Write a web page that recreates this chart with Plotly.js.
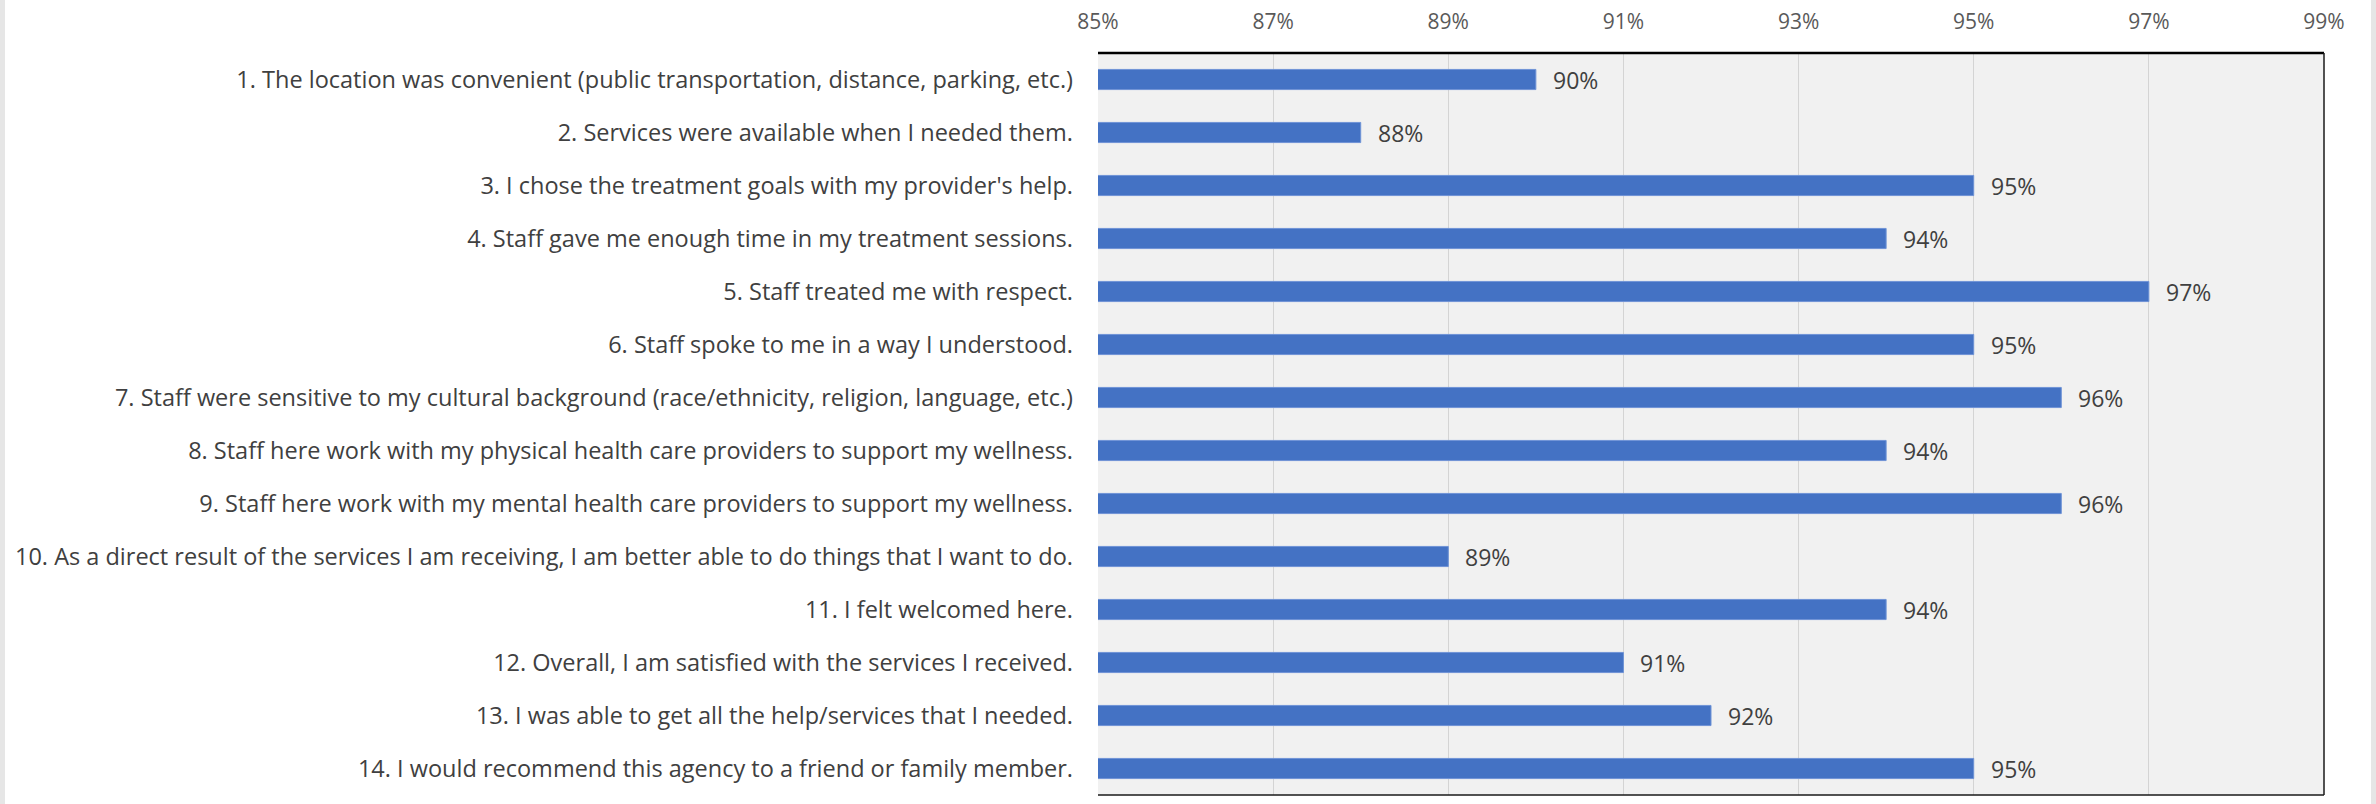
<!DOCTYPE html>
<html>
<head>
<meta charset="utf-8">
<script src="https://cdn.plot.ly/plotly-3.0.1.min.js"></script>
<style>
html,body{margin:0;padding:0;background:#ffffff;}
#wrap{position:relative;width:2376px;height:804px;overflow:hidden;}
#chart{width:2376px;height:804px;}
.strip{position:absolute;top:0;width:5px;height:804px;background:#e6e6e6;}
</style>
</head>
<body>
<div id="wrap">
<div id="chart"></div>
<div class="strip" style="left:0"></div>
<div class="strip" style="right:0"></div>
</div>
<script>
const categories = [
  "1. The location was convenient (public transportation, distance, parking, etc.)",
  "2. Services were available when I needed them.",
  "3. I chose the treatment goals with my provider's help.",
  "4. Staff gave me enough time in my treatment sessions.",
  "5. Staff treated me with respect.",
  "6. Staff spoke to me in a way I understood.",
  "7. Staff were sensitive to my cultural background (race/ethnicity, religion, language, etc.)",
  "8. Staff here work with my physical health care providers to support my wellness.",
  "9. Staff here work with my mental health care providers to support my wellness.",
  "10. As a direct result of the services I am receiving, I am better able to do things that I want to do.",
  "11. I felt welcomed here.",
  "12. Overall, I am satisfied with the services I received.",
  "13. I was able to get all the help/services that I needed.",
  "14. I would recommend this agency to a friend or family member."
];
const values = [90, 88, 95, 94, 97, 95, 96, 94, 96, 89, 94, 91, 92, 95];
const valueLabels = ["90%","88%","95%","94%","97%","95%","96%","94%","96%","89%","94%","91%","92%","95%"];
const tickValues = [85, 87, 89, 91, 93, 95, 97, 99];
const tickLabels = ["85%","87%","89%","91%","93%","95%","97%","99%"];

const FONT = "Open Sans, Liberation Sans, sans-serif";

const trace = {
  type: "bar",
  orientation: "h",
  x: values,
  y: categories,
  base: 0,
  marker: {color: "#4472c4", line: {color: "#6f93d6", width: 1}},
  hoverinfo: "skip"
};

const annotations = values.map((v, i) => ({
  x: v, y: categories[i], xref: "x", yref: "y",
  text: valueLabels[i], showarrow: false,
  xanchor: "left", yanchor: "middle", xshift: 15,
  font: {family: FONT, size: 23, color: "#404040"}
}));

const shapes = [
  {type: "line", xref: "paper", yref: "paper", x0: 0, x1: 1, y0: 1, y1: 1, line: {color: "#000000", width: 2.5}},
  {type: "line", xref: "paper", yref: "paper", x0: 1, x1: 1, y0: 0, y1: 1, line: {color: "#1a1a1a", width: 1.5}},
  {type: "line", xref: "paper", yref: "paper", x0: 0, x1: 1, y0: 0, y1: 0, line: {color: "#1a1a1a", width: 1.5}}
];

const layout = {
  width: 2376, height: 804,
  margin: {l: 1098, r: 52, t: 53, b: 9, pad: 0},
  paper_bgcolor: "#ffffff",
  plot_bgcolor: "#f1f1f1",
  bargap: 0.62,
  showlegend: false,
  xaxis: {
    side: "top",
    range: [85, 99],
    tickvals: tickValues,
    ticktext: tickLabels,
    showgrid: true, gridcolor: "#d4d4d4", gridwidth: 1,
    zeroline: false, showline: false,
    ticks: "", ticklabelstandoff: 19,
    tickfont: {family: FONT, size: 21, color: "#595959"},
    fixedrange: true
  },
  yaxis: {
    autorange: "reversed",
    type: "category",
    showgrid: false, zeroline: false, showline: false,
    ticks: "", ticklabelstandoff: 24,
    tickfont: {family: FONT, size: 23.5, color: "#404040"},
    fixedrange: true
  },
  annotations: annotations,
  shapes: shapes
};

Plotly.newPlot("chart", [trace], layout, {displayModeBar: false, staticPlot: true});
</script>
</body>
</html>
